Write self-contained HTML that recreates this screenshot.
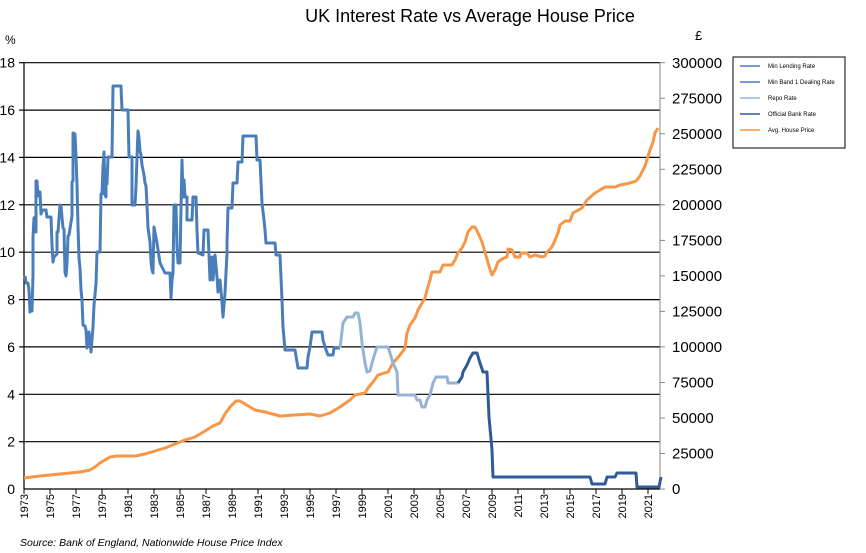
<!DOCTYPE html>
<html><head><meta charset="utf-8"><style>
body{margin:0;background:#fff;}
svg{display:block;font-family:"Liberation Sans",sans-serif;}
</style></head><body>
<svg width="866" height="553" viewBox="0 0 866 553" xmlns="http://www.w3.org/2000/svg">
<rect width="866" height="553" fill="#fff"/>
<text x="470" y="22" font-size="18" text-anchor="middle">UK Interest Rate vs Average House Price</text>
<text x="5" y="44" font-size="12">%</text>
<text x="695" y="40" font-size="13">£</text>
<g stroke="#000" stroke-width="1.2">
<line x1="24" x2="660" y1="62.7" y2="62.7"/>
<line x1="24" x2="660" y1="110.1" y2="110.1"/>
<line x1="24" x2="660" y1="157.4" y2="157.4"/>
<line x1="24" x2="660" y1="204.8" y2="204.8"/>
<line x1="24" x2="660" y1="252.2" y2="252.2"/>
<line x1="24" x2="660" y1="299.6" y2="299.6"/>
<line x1="24" x2="660" y1="346.9" y2="346.9"/>
<line x1="24" x2="660" y1="394.3" y2="394.3"/>
<line x1="24" x2="660" y1="441.7" y2="441.7"/>
<line x1="24" x2="660" y1="489" y2="489"/>
<line x1="24" x2="24" y1="62.7" y2="489"/>
<line x1="19" x2="24" y1="62.7" y2="62.7"/><line x1="19" x2="24" y1="110.1" y2="110.1"/><line x1="19" x2="24" y1="157.4" y2="157.4"/><line x1="19" x2="24" y1="204.8" y2="204.8"/><line x1="19" x2="24" y1="252.2" y2="252.2"/><line x1="19" x2="24" y1="299.6" y2="299.6"/><line x1="19" x2="24" y1="346.9" y2="346.9"/><line x1="19" x2="24" y1="394.3" y2="394.3"/><line x1="19" x2="24" y1="441.7" y2="441.7"/>
</g>
<g stroke="#888" stroke-width="1">
<line x1="660" x2="660" y1="62.7" y2="489"/>
<line x1="660" x2="665" y1="62.7" y2="62.7"/><line x1="660" x2="665" y1="98.2" y2="98.2"/><line x1="660" x2="665" y1="133.8" y2="133.8"/><line x1="660" x2="665" y1="169.3" y2="169.3"/><line x1="660" x2="665" y1="204.8" y2="204.8"/><line x1="660" x2="665" y1="240.4" y2="240.4"/><line x1="660" x2="665" y1="275.9" y2="275.9"/><line x1="660" x2="665" y1="311.4" y2="311.4"/><line x1="660" x2="665" y1="346.9" y2="346.9"/><line x1="660" x2="665" y1="382.5" y2="382.5"/><line x1="660" x2="665" y1="418" y2="418"/><line x1="660" x2="665" y1="453.5" y2="453.5"/><line x1="660" x2="665" y1="489" y2="489"/>
</g>
<g font-size="14" text-anchor="end">
<text x="15" y="67.7">18</text><text x="15" y="115.1">16</text><text x="15" y="162.4">14</text><text x="15" y="209.8">12</text><text x="15" y="257.2">10</text><text x="15" y="304.6">8</text><text x="15" y="351.9">6</text><text x="15" y="399.3">4</text><text x="15" y="446.7">2</text><text x="15" y="494">0</text>
</g>
<g font-size="15" text-anchor="start">
<text x="672" y="68">300000</text><text x="672" y="103.5">275000</text><text x="672" y="139">250000</text><text x="672" y="174.5">225000</text><text x="672" y="210">200000</text><text x="672" y="245.5">175000</text><text x="672" y="281">150000</text><text x="672" y="316.5">125000</text><text x="672" y="352">100000</text><text x="672" y="387.5">75000</text><text x="672" y="423">50000</text><text x="672" y="458.5">25000</text><text x="672" y="494">0</text>
</g>
<g stroke="#000" stroke-width="1">
<line x1="24" x2="24" y1="489" y2="494"/><line x1="50" x2="50" y1="489" y2="494"/><line x1="76" x2="76" y1="489" y2="494"/><line x1="102" x2="102" y1="489" y2="494"/><line x1="128" x2="128" y1="489" y2="494"/><line x1="154" x2="154" y1="489" y2="494"/><line x1="180" x2="180" y1="489" y2="494"/><line x1="206" x2="206" y1="489" y2="494"/><line x1="232" x2="232" y1="489" y2="494"/><line x1="258" x2="258" y1="489" y2="494"/><line x1="284" x2="284" y1="489" y2="494"/><line x1="310" x2="310" y1="489" y2="494"/><line x1="336" x2="336" y1="489" y2="494"/><line x1="362" x2="362" y1="489" y2="494"/><line x1="388" x2="388" y1="489" y2="494"/><line x1="414" x2="414" y1="489" y2="494"/><line x1="440" x2="440" y1="489" y2="494"/><line x1="466" x2="466" y1="489" y2="494"/><line x1="492" x2="492" y1="489" y2="494"/><line x1="518" x2="518" y1="489" y2="494"/><line x1="544" x2="544" y1="489" y2="494"/><line x1="570" x2="570" y1="489" y2="494"/><line x1="596" x2="596" y1="489" y2="494"/><line x1="622" x2="622" y1="489" y2="494"/><line x1="648" x2="648" y1="489" y2="494"/>
</g>
<g font-size="11" text-anchor="end">
<text transform="translate(28,494) rotate(-90)">1973</text><text transform="translate(54,494) rotate(-90)">1975</text><text transform="translate(80,494) rotate(-90)">1977</text><text transform="translate(106,494) rotate(-90)">1979</text><text transform="translate(132,494) rotate(-90)">1981</text><text transform="translate(158,494) rotate(-90)">1983</text><text transform="translate(184,494) rotate(-90)">1985</text><text transform="translate(210,494) rotate(-90)">1987</text><text transform="translate(236,494) rotate(-90)">1989</text><text transform="translate(262,494) rotate(-90)">1991</text><text transform="translate(288,494) rotate(-90)">1993</text><text transform="translate(314,494) rotate(-90)">1995</text><text transform="translate(340,494) rotate(-90)">1997</text><text transform="translate(366,494) rotate(-90)">1999</text><text transform="translate(392,494) rotate(-90)">2001</text><text transform="translate(418,494) rotate(-90)">2003</text><text transform="translate(444,494) rotate(-90)">2005</text><text transform="translate(470,494) rotate(-90)">2007</text><text transform="translate(496,494) rotate(-90)">2009</text><text transform="translate(522,494) rotate(-90)">2011</text><text transform="translate(548,494) rotate(-90)">2013</text><text transform="translate(574,494) rotate(-90)">2015</text><text transform="translate(600,494) rotate(-90)">2017</text><text transform="translate(626,494) rotate(-90)">2019</text><text transform="translate(652,494) rotate(-90)">2021</text>
</g>
<text x="20" y="546" font-size="10.5" font-style="italic">Source: Bank of England, Nationwide House Price Index</text>
<g fill="none" stroke-width="3" stroke-linejoin="round">
<polyline stroke="#f79646" points="24,478 40,476 60,474 80,472 90,470 95,467 100,463 105,460 110,457 117,456 135,456 145,454 155,451 165,448 175,444 185,440 195,437 205,431 213,426 220,423 225,414 230,407 236,401 240,401 245,404 255,410 265,412 280,416 295,415 310,414 320,416 330,413 340,407 350,400 355,395 365,393 368,388 373,382 378,375 388,372 393,363 400,355 405,348 407,333 410,325 415,318 418,310 422,303 425,298 427,290 430,280 432,272 440,272 443,265 452,265 455,260 458,253 462,248 465,242 468,232 472,227 475,227 478,233 482,242 485,252 488,263 492,275 495,270 498,262 502,259 507,257 508,249 512,250 515,257 520,257 521,253 527,253 530,257 535,255 542,257 545,256 547,252 552,247 555,240 558,233 560,225 565,221 570,221 573,213 582,208 587,200 595,193 605,187 615,187 620,185 630,183 636,181 640,176 645,166 650,150 653,142 655,133 658,128"/>
<polyline stroke="#4a7ebb" points="25,276 26,283 28,283 29,290 30,312 31,300 32,311 33,275 33,237 34,218 35,217 36,232 36,181 37,181 38,196 40,192 41,214 42,211 43,210 46,210 47,217 51,217 52,245 53,262 54,257 57,254 57,232 58,232 60,205 61,206 62,217 63,228 64,229 65,272 66,276 67,264 68,236 69,235 72,216 72,182 73,181 73,133 75,134 76,156 77,185 78,226 79,258 80,268 81,290 82,300 83,325 85,326 86,330 87,348 89,332 90,340 91,352 92,340 93,327 94,305 96,284 97,252 100,252 101,194 102,194 103,167 104,152 105,195 106,197 106,170 107,184 108,157 112,157 113,86 121,86 122,110 128,110 129,157 132,157 132,205 135,205 136,186 137,157 138,131 139,138 140,151 141,155 142,165 144,175 145,183 146,186 147,205 148,228 150,242 151,262 152,270 153,273 154,227 157,243 160,263 165,273 170,273 171,298 172,280 173,273 174,205 176,205 177,247 178,263 180,263 181,208 182,160 183,197 184,180 185,197 187,197 187,220 192,220 193,197 196,197 197,230 198,253 203,255 204,230 208,230 209,255 210,280 212,257 213,280 215,255 217,277 218,292 220,280 222,302 223,317 225,293 227,253 227,243 228,208 232,208 233,183 237,183 238,162 242,162 243,136 256,136 257,160 260,160 262,203 264,220 265,230 266,243 275,243 276,255 280,255 282,300 283,327 285,350 295,350 297,362 298,368 307,368 308,357 310,347 312,332 322,332 323,340 325,347 328,355 333,355 334,348 340,348"/>
<polyline stroke="#95b3d7" points="340,348 343,323 347,317 353,317 355,313 358,313 360,323 362,343 365,363 367,372 370,371 372,363 375,353 377,347 388,347 390,353 393,363 397,372 398,395 415,395 417,400 420,400 422,407 425,407 427,400 430,395 433,383 436,377 447,377 448,383 458,383"/>
<polyline stroke="#2f5b96" points="458,383 462,377 463,372 467,365 470,358 473,353 477,353 480,363 483,372 487,372 489,417 492,450 493,477 590,477 592,484 605,484 607,477 615,477 617,473 636,473 637,487 659,487 661,477"/>
</g>
<rect x="733" y="57" width="112" height="91" fill="#fff" stroke="#000" stroke-width="1"/>
<g stroke-width="1.5">
<line x1="740" x2="760" y1="66" y2="66" stroke="#4a7ebb"/>
<line x1="740" x2="760" y1="82" y2="82" stroke="#4a7ebb"/>
<line x1="740" x2="760" y1="98" y2="98" stroke="#95b3d7"/>
<line x1="740" x2="760" y1="114" y2="114" stroke="#2f5b96"/>
<line x1="740" x2="760" y1="130" y2="130" stroke="#f79646"/>
</g>
<g font-size="6">
<text x="768" y="68">Min Lending Rate</text>
<text x="768" y="84">Min Band 1 Dealing Rate</text>
<text x="768" y="100">Repo Rate</text>
<text x="768" y="116">Official Bank Rate</text>
<text x="768" y="132">Avg. House Price</text>
</g>
</svg>
</body></html>
